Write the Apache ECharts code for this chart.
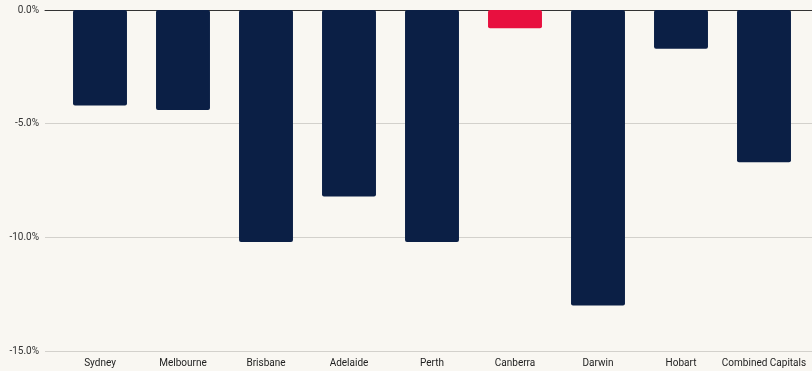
<!DOCTYPE html>
<html><head><meta charset="utf-8">
<script src="https://cdn.jsdelivr.net/npm/echarts@6/dist/echarts.min.js"></script>
<style>html,body{margin:0;padding:0;background:#f9f7f2;}#c{width:812px;height:371px;}</style>
</head><body><div id="c"></div>
<script>
const categories = ["Sydney","Melbourne","Brisbane","Adelaide","Perth","Canberra","Darwin","Hobart","Combined Capitals"];
const values = [-4.2,-4.4,-10.2,-8.2,-10.2,-0.8,-13.0,-1.7,-6.7];
const highlight = "Canberra";
const yTicks = [0,-5,-10,-15];

const navy = "#0b1f45", red = "#e8103f";
const chart = echarts.init(document.getElementById('c'), null, {renderer:'canvas'});
const font = 'Roboto, "Noto Sans", sans-serif';
chart.setOption({
  backgroundColor: '#f9f7f2',
  animation: false,
  grid: [
    {left: 45, right: 0, top: 10, bottom: 20},
    {left: 58.5, right: 6.5, top: 10, bottom: 20}
  ],
  xAxis: [
    {gridIndex: 0, type: 'value', position: 'top', min: 0, max: 1, show: true,
     axisLine: {show: true, lineStyle: {color: '#333', width: 1}},
     axisTick: {show: false}, axisLabel: {show: false}, splitLine: {show: false}},
    {gridIndex: 1, type: 'category', data: categories,
     axisLine: {show: false}, axisTick: {show: false},
     axisLabel: {color: '#222', fontSize: 10, fontFamily: font, margin: 7, interval: 0}}
  ],
  yAxis: [
    {gridIndex: 0, type: 'value', min: -15, max: 0, interval: 5,
     axisLine: {show: false}, axisTick: {show: false},
     axisLabel: {color: '#333', fontSize: 10, fontFamily: font, margin: 6,
       formatter: v => v.toFixed(1) + '%'},
     splitLine: {lineStyle: {color: '#d3d1cc', width: 1}}},
    {gridIndex: 1, type: 'value', min: -15, max: 0, interval: 5, show: false,
     splitLine: {show: false}}
  ],
  series: [{
    type: 'bar', xAxisIndex: 1, yAxisIndex: 1,
    barWidth: '65%',
    data: values.map((v, i) => ({value: v, itemStyle: {color: categories[i] === highlight ? red : navy}})),
    itemStyle: {borderRadius: 2}
  }]
});
</script></body></html>
